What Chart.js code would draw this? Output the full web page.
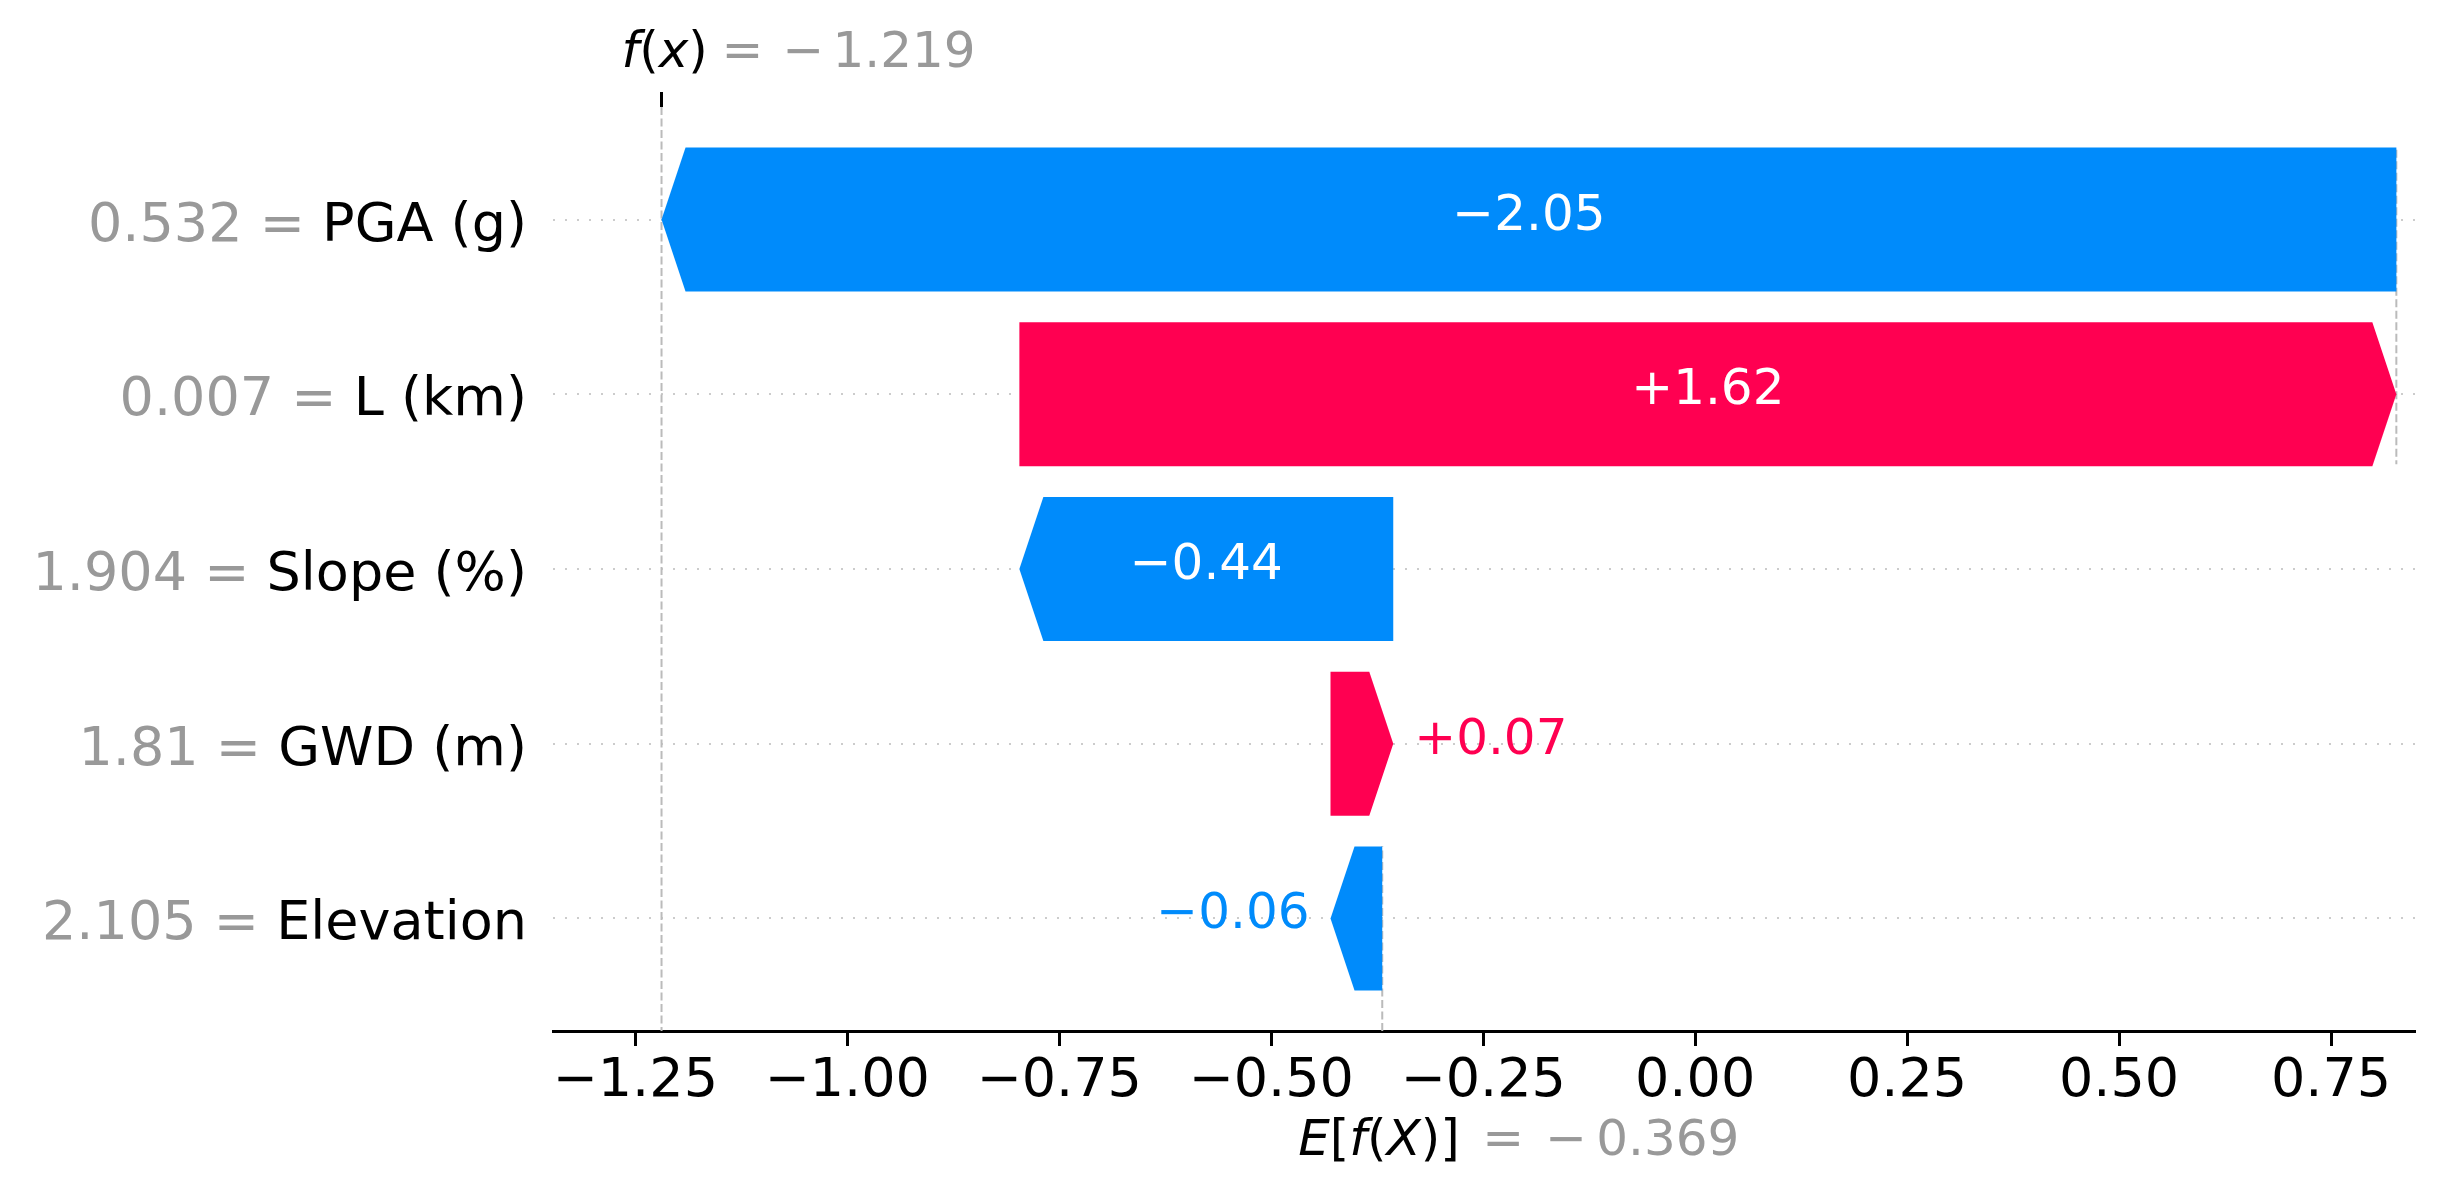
<!DOCTYPE html>
<html><head><meta charset="utf-8">
<script src="https://cdn.jsdelivr.net/npm/chart.js@4.4.0/dist/chart.umd.min.js"></script>
<style>html,body{margin:0;padding:0;background:#fff;overflow:hidden}canvas{display:block}</style>
</head><body>
<canvas id="c" width="2445" height="1198" style="width:2445px;height:1198px"></canvas>
<script>
// ---- data (top row first) ----
const featureNames  = ['PGA (g)', 'L (km)', 'Slope (%)', 'GWD (m)', 'Elevation'];
const featureValues = ['0.532', '0.007', '1.904', '1.81', '2.105'];
const shapValues    = [-2.046, 1.624, -0.441, 0.074, -0.061];
const baseValue     = -0.369;
const xTicks        = [-1.25, -1.00, -0.75, -0.50, -0.25, 0.00, 0.25, 0.50, 0.75];
const xRange        = [-1.347, 0.849];
const yRange        = [-0.644, 4.644];

const POS = '#ff0051', NEG = '#008bfb', GRAY = '#999999';
const FONT = '"DejaVu Sans", "Liberation Sans", sans-serif';
const n = featureNames.length;
const rows = featureNames.map((_, i) => i);
const starts = new Array(n), ends = new Array(n);
let acc = baseValue;
for (let i = n - 1; i >= 0; i--) { starts[i] = acc; acc += shapValues[i]; ends[i] = acc; }
const fx = acc;
const fmtSigned = v => (v < 0 ? '\u2212' : '+') + Math.abs(v).toFixed(2);
const fmtNum = (v, d) => (v < -1e-12 ? '\u2212' : '') + Math.abs(v).toFixed(d);

function drawPieces(ctx, pieces, x0, y0, color, size) {
  let xx = x0;
  ctx.textAlign = 'left'; ctx.textBaseline = 'alphabetic'; ctx.fillStyle = color;
  for (const [t, it] of pieces) {
    ctx.font = (it ? 'italic ' : '') + size + 'px ' + FONT;
    ctx.fillText(t, xx, y0);
    xx += ctx.measureText(t).width;
  }
}

const waterfall = {
  id: 'waterfall',
  beforeDatasetsDraw(chart) {
    const {ctx, chartArea: a, scales: {x, y}} = chart;
    ctx.save();
    ctx.strokeStyle = '#bbbbbb'; ctx.lineWidth = 2; ctx.setLineDash([8, 3.5]);
    const line = (px, y1, y2) => { ctx.beginPath(); ctx.moveTo(px, y1); ctx.lineTo(px, y2); ctx.stroke(); };
    for (let i = 0; i < n; i++) {
      if (i + 4 < n) line(x.getPixelForValue(starts[i]), y.getPixelForValue(i - 0.4), y.getPixelForValue(i + 1.4));
    }
    line(x.getPixelForValue(fx), a.top, a.bottom);
    line(x.getPixelForValue(baseValue), a.bottom, a.bottom - (a.bottom - a.top) / n);
    ctx.restore();
  },
  beforeDatasetDraw(chart, args) {
    const {ctx, scales: {x}} = chart;
    ctx.save();
    args.meta.data.forEach((el, i) => {
      const {y: yc, height: h} = el.getProps(['y', 'height'], true);
      const xs = x.getPixelForValue(starts[i]), xe = x.getPixelForValue(ends[i]);
      const dir = xe >= xs ? 1 : -1;
      const head = Math.min(24, Math.abs(xe - xs));
      const t = yc - h / 2, b = yc + h / 2;
      ctx.beginPath();
      ctx.moveTo(xs, t); ctx.lineTo(xe - dir * head, t); ctx.lineTo(xe, yc);
      ctx.lineTo(xe - dir * head, b); ctx.lineTo(xs, b); ctx.closePath();
      ctx.fillStyle = shapValues[i] >= 0 ? POS : NEG;
      ctx.fill();
    });
    ctx.restore();
    return false;
  },
  afterDraw(chart) {
    const {ctx, chartArea: a, scales: {x, y}} = chart;
    ctx.save();
    // y labels: gray "value = " + black name
    ctx.font = '54px ' + FONT; ctx.textAlign = 'right'; ctx.textBaseline = 'alphabetic';
    const lx = a.left - 26;
    rows.forEach(i => {
      const py = y.getPixelForValue(i) + 21;
      ctx.fillStyle = '#000'; ctx.fillText(featureNames[i], lx, py);
      const w = ctx.measureText(featureNames[i]).width;
      ctx.fillStyle = GRAY; ctx.fillText(featureValues[i] + ' = ', lx - w, py);
    });
    // bar value labels
    ctx.font = '50px ' + FONT; ctx.textBaseline = 'middle';
    rows.forEach(i => {
      const xs = x.getPixelForValue(starts[i]), xe = x.getPixelForValue(ends[i]);
      const txt = fmtSigned(shapValues[i]);
      const tw = ctx.measureText(txt).width;
      const py = y.getPixelForValue(i) - 3;
      if (tw < Math.abs(xe - xs)) {
        ctx.textAlign = 'center'; ctx.fillStyle = '#fff';
        ctx.fillText(txt, (xs + xe) / 2, py);
      } else {
        const dir = xe >= xs ? 1 : -1;
        ctx.textAlign = dir > 0 ? 'left' : 'right';
        ctx.fillStyle = shapValues[i] >= 0 ? POS : NEG;
        ctx.fillText(txt, xe + dir * 21, py);
      }
    });
    // f(x) label at top
    const pf = x.getPixelForValue(fx);
    drawPieces(ctx, [['f', true], ['(', false], ['x', true], [')', false]], pf - 40, 67, '#000', 50);
    drawPieces(ctx, [['=', false]], pf + 60, 67, GRAY, 50);
    drawPieces(ctx, [['\u2212', false]], pf + 121, 67, GRAY, 50);
    drawPieces(ctx, [[Math.abs(fx).toFixed(3), false]], pf + 171, 67, GRAY, 50);
    // E[f(X)] label at bottom
    const pe = x.getPixelForValue(baseValue);
    drawPieces(ctx, [['E', true], ['[', false], ['f', true], ['(', false], ['X', true], [')', false], [']', false]], pe - 84, 1155, '#000', 50);
    drawPieces(ctx, [['=', false]], pe + 100, 1155, GRAY, 50);
    drawPieces(ctx, [['\u2212', false]], pe + 163, 1155, GRAY, 50);
    drawPieces(ctx, [[Math.abs(baseValue).toFixed(3), false]], pe + 214, 1155, GRAY, 50);
    ctx.restore();
  }
};

new Chart(document.getElementById('c'), {
  type: 'bar',
  data: {
    datasets: [{
      xAxisID: 'x', yAxisID: 'y',
      data: rows.map(i => ({x: [starts[i], ends[i]], y: i})),
      backgroundColor: rows.map(i => shapValues[i] >= 0 ? POS : NEG),
      categoryPercentage: 1, barPercentage: 0.824
    }]
  },
  options: {
    indexAxis: 'y', responsive: false, devicePixelRatio: 1, animation: false,
    layout: {autoPadding: false, padding: {left: 0, right: 30, top: 0, bottom: 0}},
    plugins: {legend: {display: false}, tooltip: {enabled: false}},
    scales: {
      x: {
        type: 'linear', position: 'bottom', min: xRange[0], max: xRange[1], bounds: 'data', offset: false,
        afterBuildTicks: s => { s.ticks = xTicks.map(v => ({value: v})); },
        afterFit: s => { s.height = 167; },
        ticks: {font: {family: 'DejaVu Sans', size: 54}, color: '#000', padding: 4, autoSkip: false, maxRotation: 0,
                callback: v => fmtNum(v, 2)},
        grid: {offset: false, drawOnChartArea: false, drawTicks: true, tickLength: 15, tickWidth: 3, tickColor: '#000'},
        border: {display: true, color: '#000', width: 3}
      },
      x2: {
        type: 'linear', position: 'top', min: xRange[0], max: xRange[1], bounds: 'data', offset: false,
        afterBuildTicks: s => { s.ticks = [{value: fx}]; },
        afterFit: s => { s.height = 107; },
        ticks: {display: false},
        grid: {offset: false, drawOnChartArea: false, drawTicks: true, tickLength: 15, tickWidth: 3, tickColor: '#000'},
        border: {display: false}
      },
      y: {
        type: 'linear', position: 'left', reverse: true, min: yRange[0], max: yRange[1], bounds: 'data', offset: false,
        afterBuildTicks: s => { s.ticks = rows.map(v => ({value: v})); },
        afterFit: s => { s.width = 553; },
        ticks: {display: false},
        grid: {offset: false, color: '#cccccc', lineWidth: 2, drawTicks: false},
        border: {display: false, dash: [2, 10]}
      }
    }
  },
  plugins: [waterfall]
});
</script>
</body></html>
